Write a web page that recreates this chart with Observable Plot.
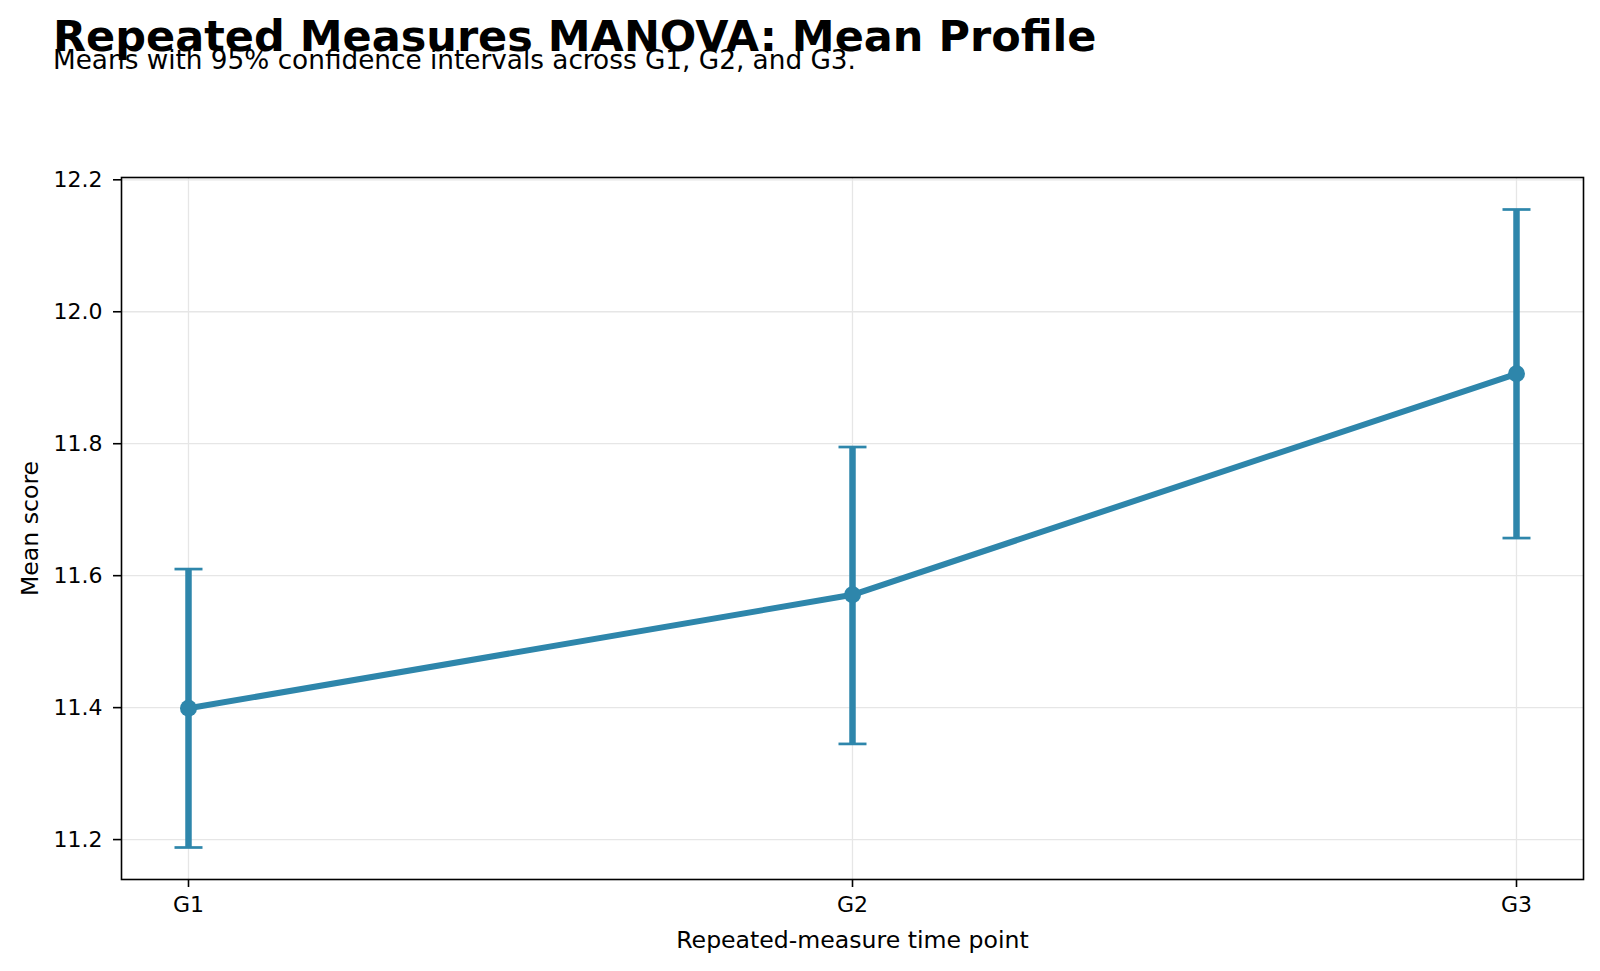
<!DOCTYPE html>
<html>
<head>
<meta charset="utf-8">
<script src="https://cdn.jsdelivr.net/npm/d3@7"></script>
<script src="https://cdn.jsdelivr.net/npm/@observablehq/plot@0.6"></script>
<style>
  html, body { margin: 0; padding: 0; background: #ffffff; }
  body { width: 1600px; height: 971px; overflow: hidden; font-family: "DejaVu Sans", sans-serif; color: #000; }
  #header { position: relative; width: 1600px; height: 90px; }
  #title { position: absolute; left: 53px; top: 14.5px; font-size: 43px; font-weight: bold; line-height: 1; white-space: nowrap; }
  #subtitle { position: absolute; left: 53px; top: 46.5px; font-size: 26.3px; line-height: 1; white-space: nowrap; }
  #chart svg { display: block; }
</style>
</head>
<body>
<div id="header">
  <div id="title">Repeated Measures MANOVA: Mean Profile</div>
  <div id="subtitle">Means with 95% confidence intervals across G1, G2, and G3.</div>
</div>
<div id="chart"></div>
<script>
// Time points and mean scores with 95% confidence bounds
const timePoints = ["G1", "G2", "G3"];
const meanScores = [11.399, 11.571, 11.906];
const ciLower = [11.188, 11.345, 11.657];
const ciUpper = [11.610, 11.795, 12.155];
const yTicks = [11.2, 11.4, 11.6, 11.8, 12.0, 12.2];

const rows = timePoints.map((t, i) => ({
  time: t,
  mean: meanScores[i],
  lo: ciLower[i],
  hi: ciUpper[i]
}));

const lineColor = "#2e86ab";
const gridColor = "#e6e6e6";

// Horizontal cap drawn as a custom dot symbol (28px wide)
const capSymbol = {
  draw(context) {
    context.moveTo(-14, 0);
    context.lineTo(14, 0);
  }
};

const chart = Plot.plot({
  width: 1600,
  height: 881,
  marginTop: 87,
  marginBottom: 92,
  marginLeft: 121,
  marginRight: 17,
  style: { fontFamily: "DejaVu Sans, sans-serif", background: "#ffffff", color: "#000000", overflow: "visible" },
  x: { type: "point", domain: timePoints, padding: 0.1 },
  y: { domain: [11.1395, 12.2035] },
  marks: [
    Plot.gridX({ stroke: gridColor, strokeOpacity: 1, strokeWidth: 1.3 }),
    Plot.gridY(yTicks, { stroke: gridColor, strokeOpacity: 1, strokeWidth: 1.3 }),
    Plot.ruleX(rows, { x: "time", y1: "lo", y2: "hi", stroke: lineColor, strokeWidth: 6.5 }),
    Plot.dot(rows, { x: "time", y: "hi", symbol: capSymbol, fill: "none", stroke: lineColor, strokeWidth: 2.7 }),
    Plot.dot(rows, { x: "time", y: "lo", symbol: capSymbol, fill: "none", stroke: lineColor, strokeWidth: 2.7 }),
    Plot.line(rows, { x: "time", y: "mean", stroke: lineColor, strokeWidth: 6 }),
    Plot.dot(rows, { x: "time", y: "mean", r: 8.5, fill: lineColor, stroke: "none" }),
    Plot.axisY(yTicks, {
      tickSize: 8, tickPadding: 11, fontSize: 22, strokeWidth: 1.6,
      tickFormat: (d) => d.toFixed(1), label: null
    }),
    Plot.axisX({ tickSize: 8, tickPadding: 8.5, fontSize: 22, strokeWidth: 1.6, label: null }),
    Plot.text(["Repeated-measure time point"], {
      frameAnchor: "bottom", dy: 60.5, lineAnchor: "middle", fontSize: 23.6, fill: "#000"
    }),
    Plot.text(["Mean score"], {
      frameAnchor: "left", dx: -91, rotate: -90, textAnchor: "middle", lineAnchor: "middle", fontSize: 23.6, fill: "#000"
    }),
    Plot.frame({ stroke: "#000000", strokeWidth: 1.6 })
  ]
});

document.getElementById("chart").appendChild(chart);
</script>
</body>
</html>
